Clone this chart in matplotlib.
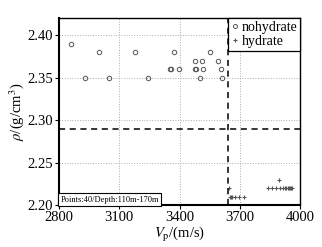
import matplotlib.pyplot as plt

# nohydrate samples
nohyd_vp = [2860, 3000, 3180, 3375, 3550,
            3475, 3510, 3590,
            3355, 3360, 3395, 3475, 3480, 3515, 3605,
            2930, 3050, 3245, 3500, 3610]
nohyd_rho = [2.39, 2.38, 2.38, 2.38, 2.38,
             2.37, 2.37, 2.37,
             2.36, 2.36, 2.36, 2.36, 2.36, 2.36, 2.36,
             2.35, 2.35, 2.35, 2.35, 2.35]

# hydrate samples
hyd_vp = [3648, 3652, 3656, 3660, 3678, 3698, 3720,
          3895,
          3840, 3860, 3880, 3900, 3915, 3925, 3932, 3938, 3944, 3950, 3955, 3960]
hyd_rho = [2.22, 2.21, 2.21, 2.21, 2.21, 2.21, 2.21,
           2.23,
           2.22, 2.22, 2.22, 2.22, 2.22, 2.22, 2.22, 2.22, 2.22, 2.22, 2.22, 2.22]

vp_cut = 3640
rho_cut = 2.29

plt.rcParams['font.family'] = ['Liberation Serif', 'DejaVu Serif']
plt.rcParams['mathtext.fontset'] = 'stix'

fig = plt.figure(figsize=(3.22, 2.47), dpi=100)
ax = fig.add_axes([0.183, 0.170, 0.749, 0.757])

ax.grid(True, linestyle=':', color='#aaaaaa', linewidth=0.7)
ax.set_axisbelow(True)

ax.plot(nohyd_vp, nohyd_rho, 'o', mfc='none', mec='#555555', ms=3.2, mew=0.7,
        label='nohydrate', linestyle='none')
ax.plot(hyd_vp, hyd_rho, '+', color='#555555', ms=3.5, mew=0.8,
        label='hydrate', linestyle='none')

ax.axhline(rho_cut, color='black', linestyle='--', linewidth=1.1, dashes=(4, 3))
ax.axvline(vp_cut, color='black', linestyle='--', linewidth=1.1, dashes=(4, 3))

ax.set_xlim(2800, 4000)
ax.set_ylim(2.20, 2.42)
ax.set_xticks([2800, 3100, 3400, 3700, 4000])
ax.set_yticks([2.20, 2.25, 2.30, 2.35, 2.40])
ax.set_yticklabels(['2.20', '2.25', '2.30', '2.35', '2.40'])
ax.tick_params(labelsize=10.5, length=3, width=0.8, pad=1)

for s in ax.spines.values():
    s.set_linewidth(1.0)
ax.spines['left'].set_linewidth(1.5)
ax.spines['bottom'].set_linewidth(1.5)

ax.set_xlabel(r'$V_\mathrm{p}$/(m/s)', fontsize=10.5, labelpad=1)
ax.set_ylabel(r'$\rho$/(g/cm$^3$)', fontsize=10.5, labelpad=1)

leg = ax.legend(loc='upper right', fontsize=10, frameon=True, fancybox=False,
                handlelength=0.5, handletextpad=0.25, borderpad=0.2,
                labelspacing=0.1, borderaxespad=0.0, markerscale=0.9)
leg.get_frame().set_edgecolor('black')
leg.get_frame().set_linewidth(0.9)
leg.get_frame().set_alpha(1)

ax.text(0.006, 0.008, 'Points:40/Depth:110m-170m', transform=ax.transAxes,
        fontsize=6, va='bottom', ha='left',
        bbox=dict(boxstyle='square,pad=0.3', fc='white', ec='black', lw=0.8))

fig.savefig('out.png', dpi=100)
